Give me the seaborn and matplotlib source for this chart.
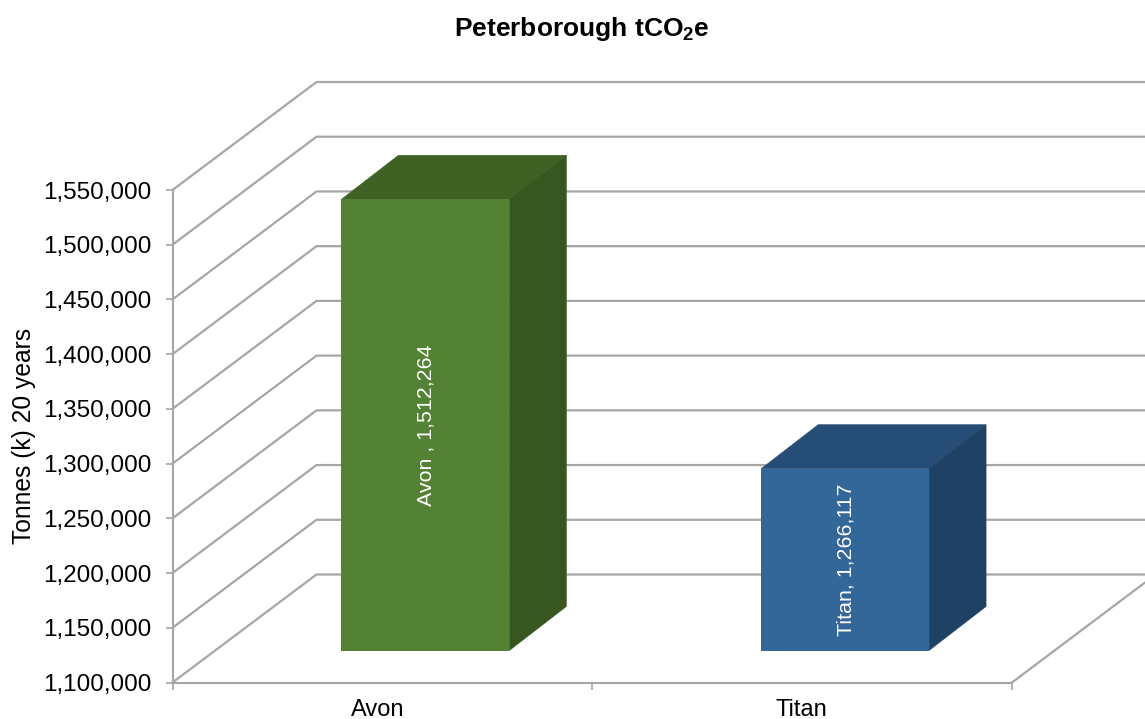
import matplotlib
matplotlib.use("Agg")
import matplotlib.pyplot as plt
from matplotlib.patches import Polygon
from matplotlib.transforms import IdentityTransform
from matplotlib.ticker import FuncFormatter
import pandas as pd
import seaborn as sns

categories = ["Avon", "Titan"]
values = [1512264, 1266117]
data_labels = ["Avon , 1,512,264", "Titan, 1,266,117"]
y_ticks = [1100000, 1150000, 1200000, 1250000, 1300000, 1350000, 1400000, 1450000, 1500000, 1550000]
title = r"Peterborough tCO$_{\mathbf{2}}$e"
y_label = "Tonnes (k) 20 years"

front_colors = ["#548235", "#336699"]
top_colors = ["#3F6123", "#264D75"]
side_colors = ["#375620", "#1F4264"]
GRID = "#A6A6A6"

W, H = 1145, 719
sns.set_theme(style="white")
plt.rcParams["font.family"] = ["Liberation Sans", "DejaVu Sans"]
plt.rcParams["mathtext.fontset"] = "custom"
plt.rcParams["mathtext.bf"] = "Liberation Sans:bold"
plt.rcParams["mathtext.rm"] = "Liberation Sans"
plt.rcParams["text.color"] = "black"
plt.rcParams["axes.labelcolor"] = "black"

fig = plt.figure(figsize=(W / 100, H / 100), dpi=100, facecolor="white")

def rect(l, top, r, bottom, dx=0, dy=0):
    return [(l + dx) / W, (H - bottom + dy) / H, (r - l) / W, (bottom - top) / H]

L, R, T, B = 172.5, 1012, 190, 682.5
DEPTH = (144, 108)      # wall depth in pixels
BAR_SHIFT = (43, 32)    # bar front plane from chart front
BAR_DEPTH = (57, 44)    # bar depth

ax = fig.add_axes(rect(L, T, R, B))
ax.set_ylim(y_ticks[0], y_ticks[-1])
ax.set_xlim(-0.5, 1.5)
ax.patch.set_alpha(0)
for s in ["top", "right"]:
    ax.spines[s].set_visible(False)
for s in ["left", "bottom"]:
    ax.spines[s].set_color(GRID)
    ax.spines[s].set_linewidth(1.5)
ax.set_yticks(y_ticks)
ax.yaxis.set_major_formatter(FuncFormatter(lambda v, _: f"{int(v):,}"))
ax.set_xticks([-0.5, 0.5, 1.5])
ax.set_xticklabels([])
ax.tick_params(axis="both", length=5, width=1.2, color=GRID, labelcolor="black",
               bottom=True, left=True)
ax.tick_params(axis="y", labelsize=17.5, pad=10)
ax.set_ylabel(y_label, fontsize=17.7, labelpad=5)

# back wall grid and side wall, through the y scale of the front axis
for v in y_ticks:
    x0, y0 = ax.transData.transform((-0.5, v))
    x1 = x0 + DEPTH[0]
    y1 = y0 + DEPTH[1]
    fig.add_artist(plt.Line2D([x0, x1, W], [y0, y1, y1], transform=IdentityTransform(),
                              color=GRID, lw=1.6, zorder=0.5, solid_joinstyle="miter"))
# floor right edge
xr, yr = ax.transData.transform((1.5, y_ticks[0]))
fig.add_artist(plt.Line2D([xr, W], [yr, yr + 100], transform=IdentityTransform(),
                          color=GRID, lw=1.6, zorder=0.5))

# bars on a transparent axes shifted into the depth of the chart
bax = fig.add_axes(rect(L, T, R, B, *BAR_SHIFT))
bax.patch.set_alpha(0)
df = pd.DataFrame({"category": categories, "value": values})
sns.barplot(data=df, x="category", y="value", hue="category", palette=front_colors, width=0.4,
            legend=False, saturation=1, ax=bax)
bax.set_xlim(-0.5, 1.5)
bax.set_ylim(y_ticks[0], y_ticks[-1])
bax.axis("off")

dx, dy = BAR_DEPTH
for patch, top_c, side_c, lab in zip(bax.patches, top_colors, side_colors, data_labels):
    patch.set_edgecolor("none")
    xa, ya = bax.transData.transform((patch.get_x(), y_ticks[0]))
    xb, yb = bax.transData.transform((patch.get_x() + patch.get_width(), patch.get_height()))
    fig.add_artist(Polygon([(xa, yb), (xb, yb), (xb + dx, yb + dy), (xa + dx, yb + dy)],
                           transform=IdentityTransform(), fc=top_c, ec=top_c, lw=0.4, zorder=3))
    fig.add_artist(Polygon([(xb, ya), (xb + dx, ya + dy), (xb + dx, yb + dy), (xb, yb)],
                           transform=IdentityTransform(), fc=side_c, ec=side_c, lw=0.4, zorder=3))
    bax.text(patch.get_x() + patch.get_width() / 2 + 0.002, (patch.get_height() + y_ticks[0]) / 2, lab,
             rotation=90, color="white", ha="center", va="center", fontsize=15.4, zorder=5)

ax.set_zorder(1)
bax.set_zorder(4)

# category labels
for x, c in zip([-0.01, 0.999], categories):
    ax.text(x, -0.056, c, transform=ax.get_xaxis_transform(), ha="center", va="center",
            fontsize=17, color="black")

fig.text(581.5 / W, 1 - 29 / H, title, ha="center", va="center", fontsize=19, fontweight="bold", color="black")

fig.savefig("out.png", dpi=100, facecolor="white")
